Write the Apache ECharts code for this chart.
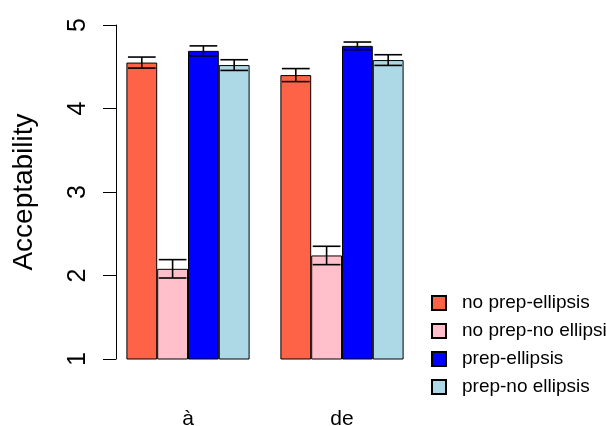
<!DOCTYPE html>
<html>
<head>
<meta charset="utf-8">
<script src="https://cdn.jsdelivr.net/npm/echarts@6/dist/echarts.min.js"></script>
<style>html,body{margin:0;padding:0;background:#fff}#c{width:606px;height:426px}</style>
</head>
<body>
<div id="c"></div>
<script>
const categories = ['à', 'de'];
const seriesNames = ['no prep-ellipsis', 'no prep-no ellipsi', 'prep-ellipsis', 'prep-no ellipsis'];
const seriesColors = ['#FF6347', '#FFC0CB', '#0000FF', '#ADD8E6'];
const noPrepEllipsis = [4.55, 4.40];
const noPrepNoEllipsis = [2.08, 2.24];
const prepEllipsis = [4.69, 4.75];
const prepNoEllipsis = [4.52, 4.58];
const noPrepEllipsisSE = [0.066, 0.078];
const noPrepNoEllipsisSE = [0.11, 0.11];
const prepEllipsisSE = [0.06, 0.046];
const prepNoEllipsisSE = [0.064, 0.064];
const yTicks = [1, 2, 3, 4, 5];

const means = [noPrepEllipsis, noPrepNoEllipsis, prepEllipsis, prepNoEllipsis];
const ses = [noPrepEllipsisSE, noPrepNoEllipsisSE, prepEllipsisSE, prepNoEllipsisSE];
const FONT = 'Liberation Sans';
const BARFRAC = 0.2;

const errData = [];
means.forEach((arr, k) => arr.forEach((m, i) => errData.push([i, m, ses[k][i], k])));

const barSeries = seriesNames.map((name, k) => ({
  name: name,
  type: 'bar',
  data: means[k],
  barWidth: (BARFRAC * 100) + '%',
  barGap: '0%',
  itemStyle: { color: seriesColors[k], borderColor: '#000', borderWidth: 1 },
  emphasis: { disabled: true },
  animation: false,
  clip: true
}));

const errSeries = {
  type: 'custom',
  name: 'err',
  data: errData,
  z: 10,
  animation: false,
  encode: { x: 0, y: 1 },
  renderItem: function (params, api) {
    const ci = api.value(0), m = api.value(1), se = api.value(2), k = api.value(3);
    const band = api.size([1, 0])[0];
    const bw = band * BARFRAC;
    const c = api.coord([ci, m]);
    const x = c[0] + (k - 1.5) * bw;
    const yHi = api.coord([ci, m + se])[1];
    const yLo = api.coord([ci, m - se])[1];
    const hw = bw * 0.45;
    const st = { stroke: '#000', lineWidth: 1.6 };
    return {
      type: 'group',
      children: [
        { type: 'line', shape: { x1: x, y1: yHi, x2: x, y2: yLo }, style: st },
        { type: 'line', shape: { x1: x - hw, y1: yHi, x2: x + hw, y2: yHi }, style: st },
        { type: 'line', shape: { x1: x - hw, y1: yLo, x2: x + hw, y2: yLo }, style: st }
      ]
    };
  }
};

const chart = echarts.init(document.getElementById('c'), null, { renderer: 'canvas' });
chart.setOption({
  backgroundColor: '#fff',
  animation: false,
  textStyle: { fontFamily: FONT },
  grid: { left: 111, width: 308, top: 25, bottom: 67, containLabel: false, outerBoundsMode: 'none' },
  xAxis: {
    type: 'category',
    data: categories,
    axisLine: { show: false },
    axisTick: { show: false },
    axisLabel: { color: '#000', fontSize: 21, fontFamily: FONT, margin: 50 }
  },
  yAxis: {
    type: 'value',
    min: yTicks[0],
    max: yTicks[yTicks.length - 1],
    interval: 1,
    offset: -5,
    splitLine: { show: false },
    axisLine: { show: true, lineStyle: { color: '#000', width: 1 } },
    axisTick: { show: true, length: 13, lineStyle: { color: '#000', width: 1 } },
    axisLabel: { color: '#000', fontSize: 25, fontFamily: FONT, rotate: 90, margin: 25 },
    name: 'Acceptability',
    nameLocation: 'middle',
    nameRotate: 90,
    nameGap: 78,
    nameTextStyle: { color: '#000', fontSize: 28, fontFamily: FONT }
  },
  legend: {
    data: seriesNames,
    orient: 'vertical',
    left: 426,
    top: 288,
    itemWidth: 14,
    itemHeight: 14,
    itemGap: 8,
    icon: 'rect',
    selectedMode: false,
    textStyle: { color: '#000', fontSize: 19, fontFamily: FONT, lineHeight: 20, padding: [0, 0, 0, 11] }
  },
  series: barSeries.concat([errSeries])
});
</script>
</body>
</html>
